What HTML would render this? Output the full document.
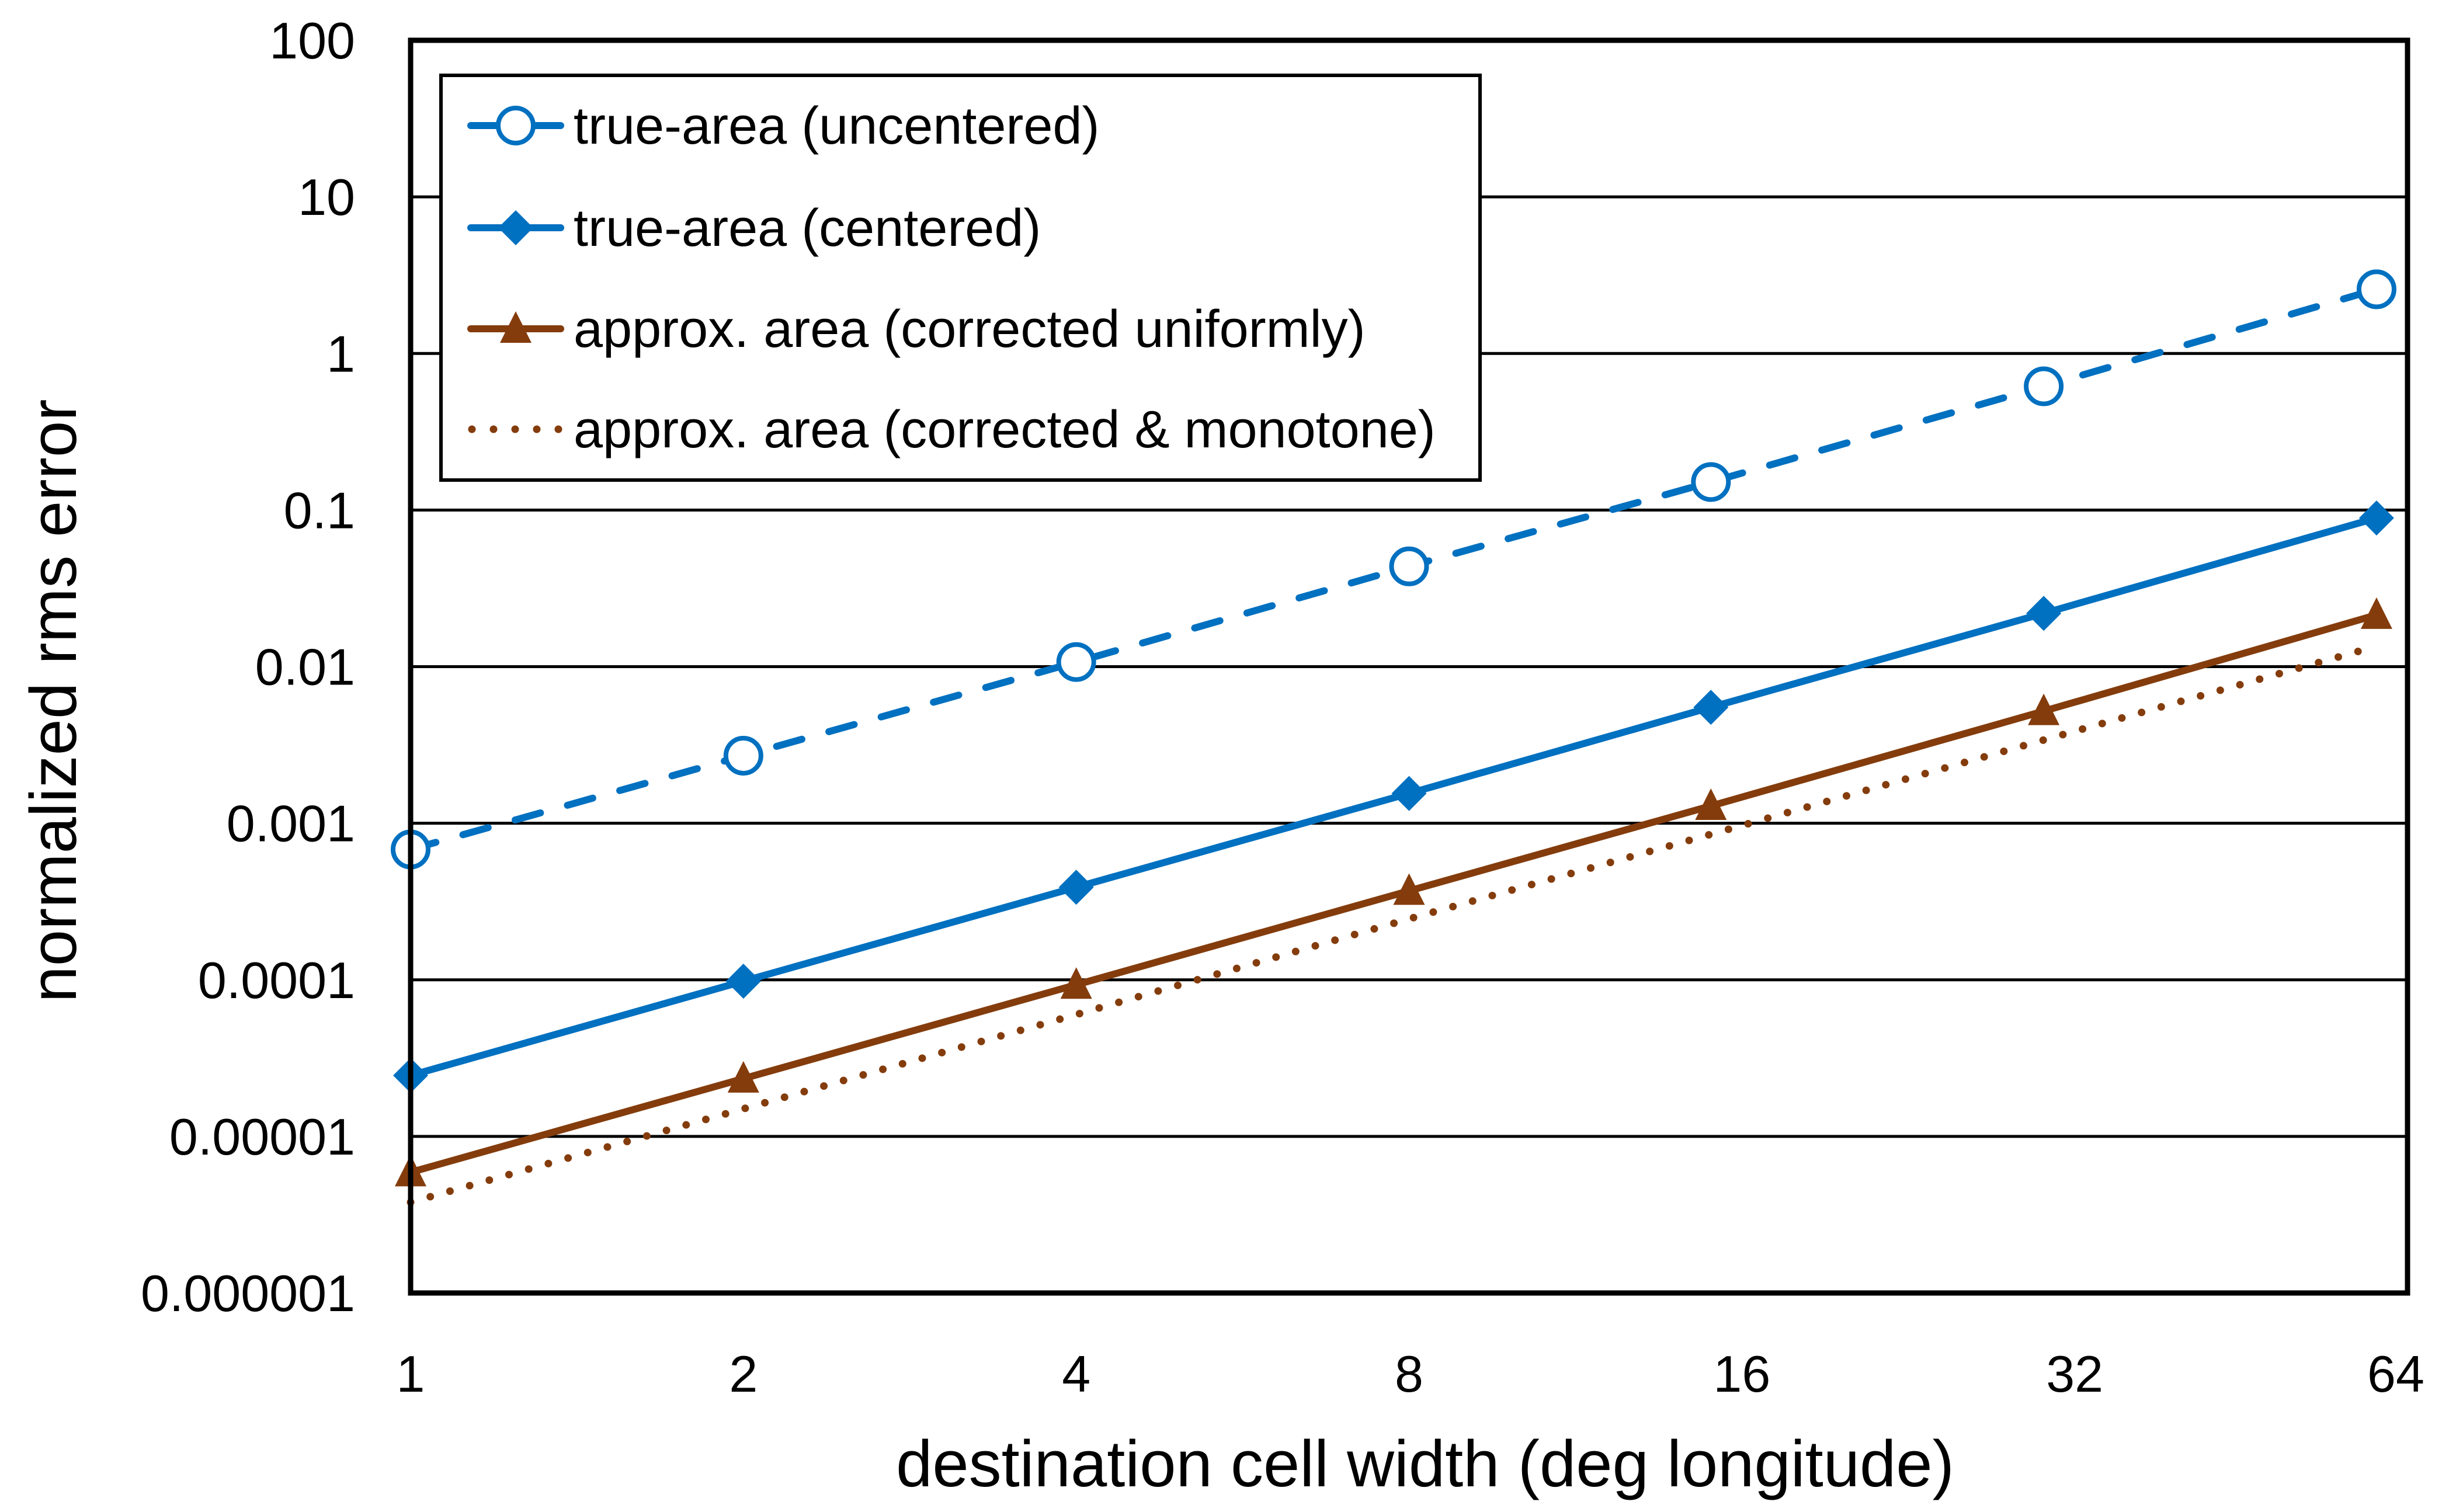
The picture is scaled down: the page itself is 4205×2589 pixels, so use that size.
<!DOCTYPE html>
<html><head><meta charset="utf-8"><style>
html,body{margin:0;padding:0;background:#fff}
svg{display:block}
text{font-family:"Liberation Sans",sans-serif;fill:#000}
</style></head><body>
<svg id="chart" width="4205" height="2589" viewBox="0 0 4205 2589" xmlns="http://www.w3.org/2000/svg">
<rect x="0" y="0" width="4205" height="2589" fill="#fff"/>
<g id="grid"></g>
<g id="series"></g>
<rect x="703" y="69" width="3419" height="2145" fill="none" stroke="#000" stroke-width="9"/>
<g id="yticks"></g>
<g id="xticks"></g>
<text x="2440" y="2545" font-size="112" text-anchor="middle">destination cell width (deg longitude)</text>
<text transform="translate(130,1200) rotate(-90)" font-size="112" text-anchor="middle">normalized rms error</text>
<g id="legend">
<rect x="755" y="129" width="1779" height="693" fill="#fff" stroke="#000" stroke-width="6"/>
</g>
</svg>
<script>
const tickValues = [1, 2, 4, 8, 16, 32, 64];
const tickLabels = ["1","2","4","8","16","32","64"];
const categories = [1, 2, 4, 8, 15, 30, 60];
const yTickLabels = ["100","10","1","0.1","0.01","0.001","0.0001","0.00001","0.000001"];
const yTickValues = [100,10,1,0.1,0.01,0.001,0.0001,0.00001,0.000001];
const uncentered = [6.8e-4, 2.7e-3, 0.0107, 0.0437, 0.151, 0.617, 2.57];
const centered = [2.45e-5, 9.8e-5, 3.9e-4, 1.55e-3, 5.5e-3, 0.0219, 0.089];
const uniform = [5.9e-6, 2.34e-5, 9.3e-5, 3.7e-4, 1.29e-3, 5.2e-3, 0.0214];
const monotone = [3.8e-6, 1.5e-5, 6.0e-5, 2.45e-4, 8.5e-4, 3.4e-3, 0.0135];
const legendLabels = ["true-area (uncentered)","true-area (centered)","approx. area (corrected uniformly)","approx. area (corrected & monotone)"];

const NS = "http://www.w3.org/2000/svg";
const top_ = 69, bottom_ = 2214, left_ = 703, right_ = 4122;
const xScale = v => left_ + Math.log2(v) * ((right_ - left_) / 6);
const yScale = v => top_ + (2 - Math.log10(v)) * ((bottom_ - top_) / 8);
function mk(tag, attrs, parent){const e=document.createElementNS(NS,tag);for(const k in attrs)e.setAttribute(k,attrs[k]);parent.appendChild(e);return e;}

const grid = document.getElementById('grid');
yTickValues.forEach((v,i)=>{
  const y = yScale(v);
  if(i>0 && i<yTickValues.length-1){
    const l = mk('line',{x1:left_,x2:right_,y1:y,y2:y,stroke:'#000','stroke-width':5},grid);
    
    
  }
  const t = mk('text',{x:608,y:y+31,'font-size':88,'text-anchor':'end'},document.getElementById('yticks'));
  t.textContent = yTickLabels[i];
  
  
});
tickValues.forEach((c,i)=>{
  let x = xScale(c);
  if(i===tickValues.length-1) x -= 20;
  const t = mk('text',{x:x,y:2383,'font-size':88,'text-anchor':'middle'},document.getElementById('xticks'));
  t.textContent = tickLabels[i];
  
  
});

const BLUE='#0070C0', BROWN='#843C0C';
const seriesG = document.getElementById('series');
function pts(arr){return arr.map((v,i)=>xScale(categories[i])+','+yScale(v)).join(' ');}
function marker(type,x,y,color,parent){
  let m;
  if(type==='circle') m=mk('circle',{cx:x,cy:y,r:30,fill:'#fff',stroke:color,'stroke-width':8},parent);
  else if(type==='diamond') m=mk('polygon',{points:`${x},${y-30} ${x+30},${y} ${x},${y+30} ${x-30},${y}`,fill:color},parent);
  else if(type==='triangle') m=mk('polygon',{points:`${x},${y-30} ${x+27},${y+24} ${x-27},${y+24}`,fill:color},parent);
  if(m){}
}
const defs = [
  {data:uncentered,color:BLUE,dash:'45 48',cap:'round',m:'circle',name:'series-uncentered'},
  {data:centered,color:BLUE,dash:'none',cap:'butt',m:'diamond',name:'series-centered'},
  {data:uniform,color:BROWN,dash:'none',cap:'butt',m:'triangle',name:'series-corrected-uniformly'},
  {data:monotone,color:BROWN,dash:'0 35',cap:'round',m:null,name:'series-corrected-monotone'}
];
defs.forEach(d=>{
  const g = mk('g',{},seriesG);
  
  
  const pl = mk('polyline',{points:pts(d.data),fill:'none',stroke:d.color,'stroke-width':d.m===null?13:12,'stroke-dasharray':d.dash,'stroke-linecap':d.cap,'stroke-linejoin':'round'},g);
  
  
  if(d.m) d.data.forEach((v,i)=>marker(d.m,xScale(categories[i]),yScale(v),d.color,g));
});

const leg = document.getElementById('legend');
const rowY=[215,390,563,735];
defs.forEach((d,i)=>{
  const g = mk('g',{},leg);
  
  
  const y=rowY[i];
  const l = mk('line',{x1:d.m===null?808:806,x2:960,y1:y,y2:y,stroke:d.color,'stroke-width':d.m===null?13:12,'stroke-linecap':'round','stroke-dasharray':d.m===null?'0 37':'none'},g);
  
  
  if(d.m) marker(d.m,883,y,d.color,g);
  const t = mk('text',{x:982,y:y+31,'font-size':90},g);
  t.textContent = legendLabels[i];
  
  
});
</script>
</body></html>
